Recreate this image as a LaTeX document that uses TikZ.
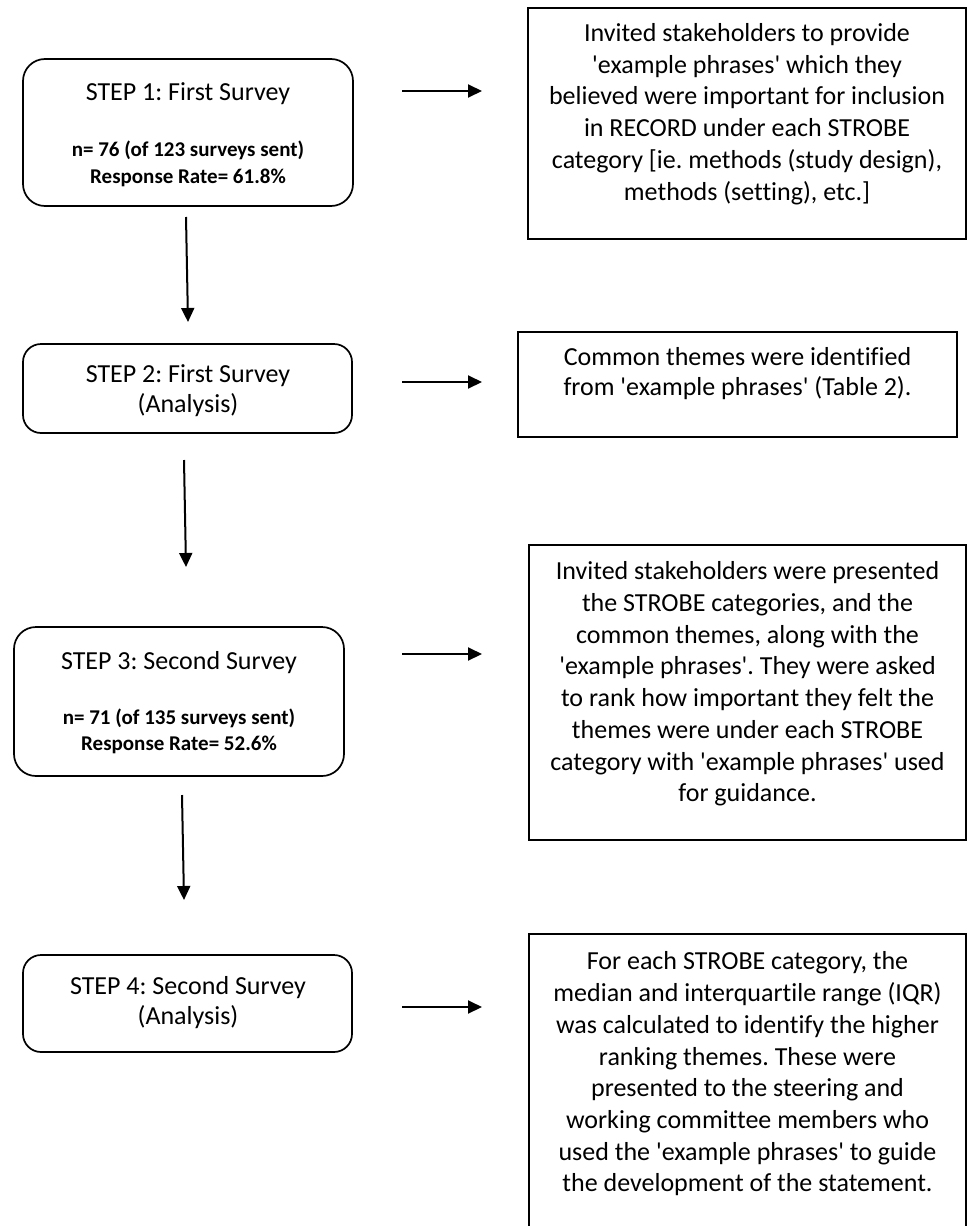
\documentclass[tikz,border=0pt]{standalone}
\usepackage{fontspec}
\setmainfont{Carlito}[Ligatures={TeXOff,NoCommon}]
\usetikzlibrary{arrows.meta}
\frenchspacing
\begin{document}
\begin{tikzpicture}[x=1pt,y=-1pt,
  stepbox/.style={draw,line width=1.7pt,rounded corners=22pt,inner sep=0pt},
  infobox/.style={draw,line width=1.7pt,inner sep=0pt},
  txt/.style={align=center,inner sep=0pt,font=\fontsize{26}{31.7}\selectfont},
  ttl/.style={align=center,inner sep=0pt,font=\fontsize{26}{30}\selectfont},
  bld/.style={align=center,inner sep=0pt,font=\fontsize{21}{26.5}\selectfont\bfseries},
  arr/.style={line width=2pt,-{Triangle[length=14pt,width=13pt]}}]
\useasboundingbox (0,0) rectangle (967,1226);
% left step boxes
\node[stepbox,minimum width=330pt,minimum height=147pt] (s1) at (188,132.5) {};
\node[stepbox,rounded corners=18pt,minimum width=329pt,minimum height=89pt] (s2) at (187.5,388.5) {};
\node[stepbox,minimum width=330pt,minimum height=149pt] (s3) at (179,701.5) {};
\node[stepbox,rounded corners=18pt,minimum width=329pt,minimum height=97pt] (s4) at (187.5,1003.5) {};
\node[ttl] (s1t) at (188,94) {STEP 1: First Survey};
\node[bld] (s1b) at (188,164) {n= 76 (of 123 surveys sent)\\Response Rate= 61.8\%};
\node[ttl] (s2t) at (188,391) {STEP 2: First Survey\\(Analysis)};
\node[ttl] (s3t) at (179,663) {STEP 3: Second Survey};
\node[bld] (s3b) at (179,731.5) {n= 71 (of 135 surveys sent)\\Response Rate= 52.6\%};
\node[ttl] (s4t) at (188,1003) {STEP 4: Second Survey\\(Analysis)};
% right info boxes
\node[infobox,minimum width=438pt,minimum height=231pt] (b1) at (747,123.5) {};
\node[infobox,minimum width=439pt,minimum height=105pt] (b2) at (737.5,384.5) {};
\node[infobox,minimum width=437pt,minimum height=295pt] (b3) at (747.5,692.5) {};
\node[infobox,minimum width=437pt,minimum height=320pt] (b4) at (747.5,1094) {};
\node[txt] (b1t) at (747,114) {Invited stakeholders to provide\\'example phrases' which they\\believed were important for inclusion\\in RECORD under each STROBE\\category [ie. methods (study design),\\methods (setting), etc.]};
\node[ttl] (b2t) at (737.5,374) {Common themes were identified\\from 'example phrases' (Table 2).};
\node[txt] (b3t) at (747.5,684) {Invited stakeholders were presented\\the STROBE categories, and the\\common themes, along with the\\'example phrases'. They were asked\\to rank how important they felt the\\themes were under each STROBE\\category with 'example phrases' used\\for guidance.};
\node[txt] (b4t) at (747.5,1074) {For each STROBE category, the\\median and interquartile range (IQR)\\was calculated to identify the higher\\ranking themes. These were\\presented to the steering and\\working committee members who\\used the 'example phrases' to guide\\the development of the statement.};
% arrow end points
\coordinate (r1a) at (402,91);  \coordinate (r1b) at (482,91);
\coordinate (r2a) at (402,382); \coordinate (r2b) at (482,382);
\coordinate (r3a) at (402,654); \coordinate (r3b) at (482,654);
\coordinate (r4a) at (402,1007);\coordinate (r4b) at (482,1007);
\coordinate (d1a) at (186,217); \coordinate (d1b) at (188,322);
\coordinate (d2a) at (184,460); \coordinate (d2b) at (186,567);
\coordinate (d3a) at (182,795); \coordinate (d3b) at (184,900);
\draw[arr] (r1a) -- (r1b);
\draw[arr] (r2a) -- (r2b);
\draw[arr] (r3a) -- (r3b);
\draw[arr] (r4a) -- (r4b);
\draw[arr] (d1a) -- (d1b);
\draw[arr] (d2a) -- (d2b);
\draw[arr] (d3a) -- (d3b);
\end{tikzpicture}
\end{document}
